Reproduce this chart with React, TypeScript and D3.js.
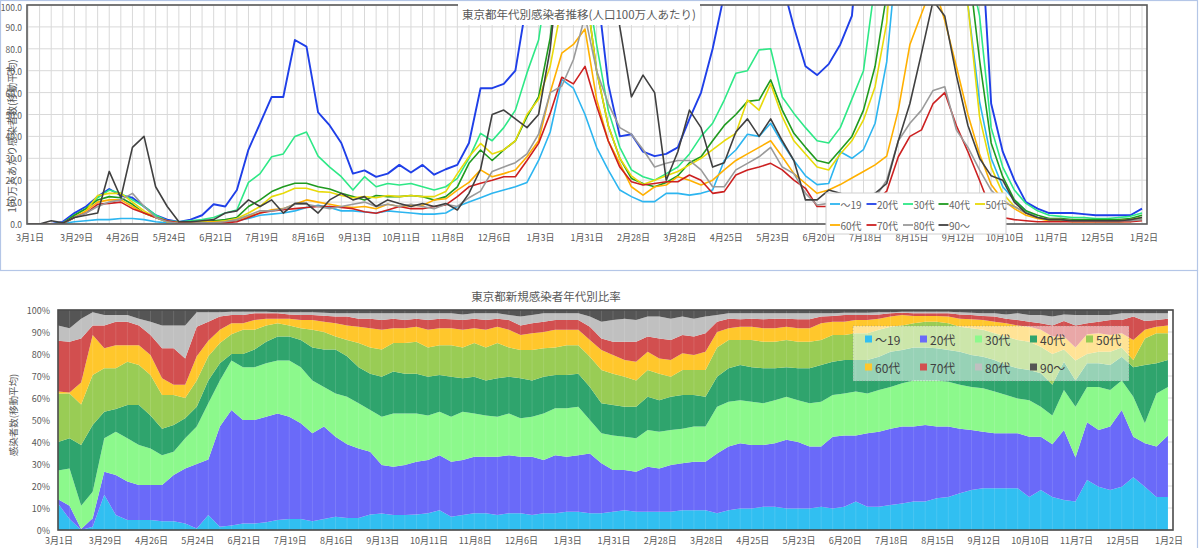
import React from 'react';
import * as d3 from 'd3';

// ---------------- data ----------------
const ageGroups = ['～19', '20代', '30代', '40代', '50代', '60代', '70代', '80代', '90～'];
const tickLabels = ['3月1日', '3月29日', '4月26日', '5月24日', '6月21日', '7月19日', '8月16日', '9月13日', '10月11日', '11月8日', '12月6日', '1月3日', '1月31日', '2月28日', '3月28日', '4月25日', '5月23日', '6月20日', '7月18日', '8月15日', '9月12日', '10月10日', '11月7日', '12月5日', '1月2日'];
const yTicksTop = [0, 10, 20, 30, 40, 50, 60, 70, 80, 90, 100];
const yTicksBottom = [0, 10, 20, 30, 40, 50, 60, 70, 80, 90, 100];
const titleTop = '東京都年代別感染者推移(人口100万人あたり)';
const titleBottom = '東京都新規感染者年代別比率';
const yLabelTop = '100万人あたり感染者数(移動平均)';
const yLabelBottom = '感染者数(移動平均)';

// weekly samples from 2020-03-01 to 2022-01-02 (97 points), per 1M population, 7-day average
const per1M_19 = [0, 0, 0, 0.2, 1, 1.5, 2, 2, 2.5, 2.5,
  2, 1, 0.5, 0.5, 0.5, 1, 1, 1, 1.5, 2.5,
  4, 4.5, 5, 6, 7.5, 8.5, 7.5, 6, 6, 5.5,
  5, 6, 5.5, 5, 4.5, 4.5, 5, 8, 10, 12,
  14, 15.5, 17, 19, 29, 42, 66, 62, 50, 35,
  24.7, 15.5, 12.5, 10.2, 10.2, 14, 14, 13.2, 14, 15.5,
  29, 33.8, 41, 40, 46, 37, 29, 22, 18, 18.5,
  33, 30, 34, 46, 74, 130, 180, 200, 200, 180,
  140, 100, 56, 30, 17, 11, 6, 3, 2, 2,
  1.5, 1.5, 1.2, 1, 1, 1.5, 3];
const per1M_20 = [0, 0, 0, 1, 5, 8, 12.5, 16, 13, 12,
  8, 4, 2, 1, 2, 4, 9, 8, 15.5, 34,
  46, 58, 58, 84, 81, 51, 45, 37, 23, 24.5,
  21.5, 23, 27, 23.5, 27, 22.5, 25, 27, 37, 62,
  62, 64, 70, 102, 160, 220, 230, 170, 140, 110,
  64, 40, 41, 33, 31, 32, 35, 48, 60, 80,
  105, 130, 150, 150, 130, 110, 90, 72, 68, 73,
  82, 95, 150, 250, 380, 500, 560, 550, 470, 380,
  270, 170, 145, 55, 33, 20, 10, 7, 5, 5,
  5, 4.5, 4, 4, 4, 4, 7];
const per1M_30 = [0, 0, 0, 0.5, 4, 7, 12, 15.5, 14, 11,
  8, 4, 1.5, 1, 1.5, 2, 3, 5, 6.4, 19,
  23, 30.7, 32, 40, 42, 31, 26, 21.6, 15.5, 21.6,
  17, 18.5, 17.8, 18.5, 17, 15.5, 17, 20.8, 30, 41.4,
  38, 44, 52, 69, 84, 120, 200, 180, 115, 82,
  52, 35, 24.7, 21.6, 20, 23, 26, 32, 40, 46,
  56.6, 68.8, 70, 79.5, 80, 58, 50.5, 44, 38, 37,
  44, 57, 70, 110, 180, 300, 360, 350, 300, 230,
  170, 120, 95, 44, 26, 15.5, 9.4, 6, 4, 3.5,
  3, 3, 2.5, 2.5, 3, 3.5, 5];
const per1M_40 = [0, 0, 0, 0.3, 4, 7, 11, 12.5, 12, 9,
  5, 3, 1, 0.5, 1, 1, 1.5, 2, 3, 8,
  11, 14.8, 17, 18.6, 18.6, 17, 16, 14, 12.5, 11,
  13, 12.5, 12.5, 13, 12.5, 11, 12.5, 17, 27.7, 33.8,
  29, 33.8, 38, 49, 58, 85, 130, 140, 110, 70,
  45, 30, 20.8, 18.5, 17, 19, 22, 28, 30.7, 38,
  45, 50, 56, 56.6, 65.8, 52, 41.4, 35, 29, 27.7,
  33.8, 40, 52, 72, 105, 180, 260, 280, 250, 200,
  150, 120, 75, 37, 21.6, 11, 6, 4, 2.5, 2.5,
  2, 2, 2, 2, 2, 2.5, 4];
const per1M_50 = [0, 0, 0, 0.2, 3, 6, 13, 14, 14, 10,
  6, 3, 1, 0.5, 0.5, 1, 1, 1.5, 2.5, 5,
  8, 12.5, 14, 16.3, 16.3, 14.8, 14.5, 13, 12, 12.5,
  12, 13, 12.5, 13, 12.5, 12.5, 14.8, 23, 30.7, 36.8,
  32, 33.8, 38, 50, 57, 72, 100, 110, 110, 70,
  45, 30, 22, 18, 20, 22, 24, 27, 30, 34,
  38, 41.4, 56.6, 52, 64, 49, 38, 32, 26, 24.7,
  32, 38, 47.5, 62.7, 92, 160, 220, 240, 220, 180,
  140, 100, 49, 26, 14, 8, 5, 3, 2, 2,
  1.5, 1.5, 1.5, 1.5, 1.5, 2, 3];
const per1M_60 = [0, 0, 0, 0.2, 3, 6, 10, 11, 11, 8,
  5, 3, 1, 0.5, 0.5, 0.5, 1, 1, 2, 3.5,
  5, 6.5, 7, 9, 11, 10, 9, 8, 7.5, 8,
  7, 9, 8, 8.5, 8.5, 11, 11.5, 15.5, 19, 24.7,
  21.6, 23, 24.7, 30.7, 38, 60, 78, 82, 89, 57,
  38, 27.7, 17, 13.2, 17, 17.8, 21.6, 20, 17.8, 20,
  24.7, 29, 32, 35, 38, 30.7, 23, 18.5, 14, 15.5,
  18, 21, 24, 27, 31, 52, 82, 96, 110, 93,
  72, 50, 32, 18, 11, 7, 4, 2.5, 1.5, 1.5,
  1, 1, 1, 1, 1, 1.2, 2];
const per1M_70 = [0, 0, 0, 0.2, 3, 5, 9, 9.4, 10, 7,
  5, 3, 1.5, 0.5, 0.3, 0.3, 0.5, 0.5, 1, 3,
  5, 6, 6.5, 7, 7.5, 8, 8, 7.5, 7, 5.6,
  4.9, 6.4, 8, 7, 7, 8, 8.7, 12.5, 17, 18.6,
  20, 21.6, 21.6, 29, 36.8, 50.5, 67, 64, 72, 54,
  38, 26, 19.3, 17.8, 18.5, 19.3, 19.3, 22.4, 20, 14,
  14.8, 22.4, 24.7, 26, 27.7, 24.7, 20, 16.3, 8, 8,
  7, 6, 7, 10, 15, 30.7, 40, 43, 55, 60,
  45, 33, 20, 6.4, 3, 2, 1.5, 1, 1, 1,
  1, 1, 1, 1, 1, 1, 1.5];
const per1M_80 = [0, 0, 0, 0.2, 3, 5, 8, 10, 11, 14,
  8, 3, 1, 0.3, 0.3, 0.5, 0.5, 1, 2, 4,
  6, 6, 7, 9, 9, 8, 7, 8, 9, 10,
  8, 9, 8, 9, 8, 7, 9, 8, 12, 15,
  24, 26, 28, 32, 41, 60, 63, 75, 95, 70,
  55, 44, 41, 34, 26, 27.7, 29, 29, 24.7, 17,
  17, 24.7, 27.7, 30.7, 35, 26, 23, 14, 8.7, 9.4,
  9, 8, 9, 12, 20, 38, 46, 52, 61, 62.7,
  43, 35, 24.7, 15.5, 10, 8, 5, 3, 2, 2,
  1.5, 1.5, 1.5, 1.5, 1.5, 1.5, 2];
const per1M_90 = [0, 0, 1.5, 0.5, 3, 4, 5, 24, 12, 35,
  40, 17, 8, 1, 1, 1.5, 2, 5, 6, 11,
  8, 11, 5, 9.4, 9.4, 5, 11, 14, 11, 12.5,
  8, 11, 9.4, 8, 9.4, 8, 9.4, 6.4, 14, 25,
  50, 52, 48, 44, 50, 80, 130, 200, 180, 150,
  130, 90, 58, 68, 60, 20, 33, 52, 44, 26,
  28, 42, 48, 40, 48, 38, 29, 11, 11, 15.5,
  14, 12, 12, 14, 18.5, 38, 55, 78, 102, 95,
  68, 45, 30, 22, 20, 10, 5, 3, 2, 2,
  1.5, 1.5, 1.5, 1.5, 1.5, 2, 3];

// cumulative share (%) of new cases up to and including each age band (weekly)
const cumShare19 = [12, 5, 0, 1.5, 16, 6.8, 4.5, 4.5, 4.5, 4,
  4, 3, 0.7, 6.8, 1.5, 2, 3, 3, 3.5, 4.5,
  5, 5, 4, 5, 6, 5.5, 5.5, 7, 7.5, 6.8,
  6.8, 7, 7.6, 9, 6, 6.8, 7.6, 7.6, 6.8, 7.6,
  7.6, 6.8, 7.6, 7.6, 8.3, 8.3, 7.6, 7.6, 8.3, 9,
  8.3, 8.3, 8.3, 8.3, 9, 9, 9, 7.6, 9, 9.8,
  9.8, 10.6, 10.6, 9.8, 9.8, 9.8, 10.6, 9.8, 10.6, 12.9,
  10.6, 10.6, 11.4, 12, 12.9, 12.9, 14.4, 15, 16.7, 18.2,
  19, 19, 19, 19, 15, 18.2, 15, 13.6, 12.9, 22.7,
  19.7, 18.2, 19.7, 24, 19.7, 15, 15];
const cumShare20 = [14, 11, 0.5, 5.3, 26.5, 25, 22, 20.5, 20.5, 20.5,
  25, 28, 30, 32, 47, 54.5, 50, 50, 51.5, 53,
  51.5, 48.5, 44, 47, 42.4, 39, 37, 35.6, 29.5, 28.8,
  29.5, 31, 31.8, 34, 31, 31.8, 33.3, 33.3, 33.3, 34,
  33.3, 33.3, 31.8, 34, 33.3, 34, 34.8, 30.3, 27.3, 27.3,
  26.5, 28.8, 28, 29.5, 30.3, 31, 31, 34.8, 37.9, 39.4,
  38.6, 38.6, 39.4, 41, 40, 37.9, 37.9, 42.4, 43, 43,
  44, 44.7, 46, 47, 47, 47.7, 47, 47, 46, 45.5,
  44.7, 44, 44, 44, 42.4, 42.4, 39, 45.5, 33, 49,
  45.5, 47, 54.5, 42.4, 39.4, 37.9, 43];
const cumShare30 = [27, 28, 11, 17.4, 41.7, 44.7, 41.7, 38.6, 37, 34,
  35.6, 41.7, 47, 57.6, 68, 77, 74, 74, 75.8, 77,
  77, 74, 68, 65, 62, 60.6, 57.6, 54.5, 51.5, 53,
  53, 53, 52, 53.8, 51.5, 53.8, 53, 52, 51.5, 53,
  50.8, 51.5, 53, 55.3, 55.3, 56, 50, 44, 43, 42.4,
  41.7, 45.5, 44.7, 45.5, 46, 47, 47, 56, 58.3, 59,
  58.3, 57.6, 59, 60.6, 59, 57.6, 58.3, 61.4, 62, 62.9,
  62, 63.6, 65, 66.7, 68, 68, 68, 67.4, 66, 65,
  64.4, 62.9, 61.4, 59.8, 59, 56, 52, 63.6, 56, 65,
  65, 63.6, 68, 60.6, 48.5, 62, 65];
const cumShare40 = [40, 41.7, 38.6, 47.7, 53.8, 55, 56.8, 56.8, 52, 46,
  47.7, 50.8, 56, 68, 75.8, 80, 80, 82, 85.6, 88,
  88, 86.4, 83, 82, 82, 79, 74, 71, 69.7, 72,
  71, 71, 69.7, 70.5, 69.7, 69, 69.7, 68, 69, 69.7,
  69, 68, 69.7, 70.5, 70.5, 71, 65, 57.6, 56.8, 56,
  56, 60.6, 59, 60.6, 61.4, 61.4, 60.6, 69.7, 73.5, 75,
  74, 73.5, 73.5, 74, 73.5, 73.5, 75, 76.5, 77.3, 77.3,
  77.3, 78.8, 81, 81.8, 83, 83, 82.6, 81.8, 81, 79.5,
  78.8, 77.3, 75, 73.5, 72.7, 71.2, 66, 76.5, 68, 75.8,
  75.8, 75, 78.8, 74, 75, 75.8, 77.3];
const cumShare50 = [62, 62, 57, 70.5, 73.5, 73.5, 76.5, 75, 70.5, 61.4,
  61.4, 60, 68, 79, 85, 89, 91, 91, 93, 94,
  93, 91.7, 91, 90, 88, 86.4, 85, 83, 82, 85,
  85, 85.6, 83, 84, 84, 83, 85, 83, 85, 83,
  81.8, 81.8, 82.6, 83, 84, 84, 78.8, 72.7, 71, 69.7,
  68, 72.7, 71, 69.7, 72.7, 72.7, 72.7, 83, 86.4, 86.4,
  86.4, 85.6, 85.6, 86.4, 85.6, 85.6, 86.4, 88.6, 88.6, 89.4,
  89.4, 91, 92.4, 93, 94, 94.7, 94.7, 94, 92.4, 91.7,
  91, 89.4, 88, 86.4, 85.6, 83.3, 80, 82, 77, 80,
  81, 81, 83, 77.3, 87, 89.4, 89.4];
const cumShare60 = [63, 62.5, 67, 88.6, 82.6, 84, 84, 84, 79.5, 69,
  66, 66, 79, 86, 91, 94, 94, 95.5, 96, 96,
  96, 95.5, 95.5, 94.7, 94, 93, 92.4, 91.7, 91, 91.7,
  91.7, 92.4, 91, 91.7, 91.7, 91, 91.7, 91, 92.4, 91,
  88.6, 89.4, 90, 91, 91, 91, 86.4, 81.8, 79.5, 77.3,
  76.5, 81, 78, 77.3, 80.3, 79.5, 81, 90, 91.7, 92.4,
  92.4, 91.7, 91.7, 92.4, 91.7, 91.7, 94, 94.7, 94.7, 95.5,
  95.5, 96, 97, 97.7, 97.3, 97.3, 97.3, 97, 96, 95.8,
  95.5, 94.7, 94, 93, 92.4, 91, 88, 88, 83, 89,
  89.4, 88.6, 89.4, 86.4, 91, 92.4, 93];
const cumShare70 = [86, 85.6, 87, 93, 93, 94.7, 94.7, 93, 88.6, 82.6,
  82.6, 78, 92.4, 94.7, 97, 97.7, 97.7, 98.5, 98.5, 98.5,
  98, 97.7, 97.7, 97.4, 97, 97, 96, 96, 95.5, 96,
  95.5, 96, 95.5, 96, 95.8, 95.5, 96, 95.5, 96, 95.5,
  93, 94, 94.7, 95.5, 95.5, 95.5, 92.4, 87, 85.6, 85.6,
  85.6, 87.9, 87, 86.4, 88.6, 87.9, 89.4, 94.7, 96, 95.8,
  96, 95.8, 96, 96, 95.8, 95.8, 97, 97.3, 97.7, 97.7,
  97.7, 98, 98.5, 98.8, 98.5, 98.5, 98.5, 98.5, 98, 97.7,
  97.3, 97, 96, 95.5, 94.7, 94, 93, 95, 93, 94,
  94.7, 95.5, 95.5, 97, 95, 95.5, 96];
const cumShare80 = [93, 91.7, 96, 99, 97.7, 97.7, 97.7, 96, 94.7, 93,
  93, 93, 99, 99, 99, 99.2, 99.2, 99.2, 99.2, 99,
  99, 99, 99, 98.8, 98.5, 98.5, 98.5, 98.5, 98.5, 98.5,
  98.5, 98.5, 98.5, 98.5, 98.5, 98, 98.5, 98.5, 98.5, 97.7,
  97, 97.7, 98.5, 98.5, 98.5, 98.5, 97, 94.7, 95.5, 96,
  95.5, 97, 97, 96, 97, 96, 97, 97.7, 98.5, 98.5,
  98.5, 98.5, 98.5, 98.5, 98.5, 98.5, 98.5, 98.5, 98.8, 98.8,
  98.8, 99, 99, 99.2, 99.2, 99.2, 99.2, 99.2, 99, 98.8,
  98.5, 98.5, 98, 98.5, 97.7, 97.7, 97, 98, 97.7, 97.7,
  97.7, 97.7, 98.5, 98.5, 98.5, 98.5, 98.5];
const cumShare90 = cumShare80.map(() => 100);

const lineSeries = [per1M_19, per1M_20, per1M_30, per1M_40, per1M_50, per1M_60, per1M_70, per1M_80, per1M_90];
const cumSeries = [cumShare19, cumShare20, cumShare30, cumShare40, cumShare50, cumShare60, cumShare70, cumShare80, cumShare90];

const lineColors = ['#2cb5f0', '#1f3fe8', '#2ee886', '#1f9a1f', '#e8da0a', '#ffb000', '#cc2020', '#9a9a9a', '#404040'];
const areaColors = ['#31bff1', '#6a6af9', '#8cf98c', '#2fa46d', '#99cc55', '#ffc72c', '#d24f4f', '#c0c0c0', '#555555'];

// ---------------- chart ----------------
const FONT = "'Noto Sans CJK JP', 'Noto Sans', sans-serif";
const START = new Date(2020, 2, 1);

export default function App() {
  const dates = d3.range(per1M_19.length).map((i) => d3.timeDay.offset(START, i * 7));
  const tickDates = tickLabels.map((_, i) => dates[i * 4]);

  // top chart geometry
  const TL = 27, TR = 1147, TT = 5, TB = 224;
  const xTop = d3.scaleTime().domain([dates[0], dates[dates.length - 1]]).range([28, 1142]);
  const yTop = d3.scaleLinear().domain([0, 100]).range([TB, TT]);
  const line = d3.line<number>().x((_, i) => xTop(dates[i])).y((d) => yTop(d));

  // bottom chart geometry
  const BL = 58, BR = 1173, BT = 310, BB = 530;
  const xBot = d3.scaleTime().domain([dates[0], dates[dates.length - 1]]).range([58, 1168]);
  const yBot = d3.scaleLinear().domain([0, 100]).range([BB, BT]);

  const rows = dates.map((d, i) => {
    const o: any = { date: d };
    ageGroups.forEach((g, k) => {
      const lo = k === 0 ? 0 : cumSeries[k - 1][i];
      const hi = cumSeries[k][i];
      o[g] = Math.max(0, hi - lo);
    });
    return o;
  });
  const stacked = d3.stack<any>().keys(ageGroups)(rows);
  const area = d3.area<any>().x((d) => xBot(d.data.date)).y0((d) => yBot(d[0])).y1((d) => yBot(d[1]));

  const gridColor = '#d9d9d9';
  const textColor = '#595959';

  const topLegendX = [830, 866.5, 903, 938.5, 975];
  const topLegendY = [204, 225];
  const botLegendX = [865, 920, 975, 1030, 1086];
  const botLegendY = [339, 367];

  return (
    <svg width={1200} height={548} style={{ position: 'absolute', left: 0, top: 0, background: '#fff' }} fontFamily={FONT}>
      <defs>
        <clipPath id="clipTop">
          <rect x={TL} y={TT} width={TR - TL} height={TB - TT} />
        </clipPath>
      </defs>
      <rect x={0} y={0} width={1200} height={548} fill="#fff" />

      {/* ===== top panel ===== */}
      <g>
        {dates.map((d, i) => (
          <line key={'vg' + i} x1={xTop(d)} x2={xTop(d)} y1={TT} y2={TB} stroke={gridColor} strokeWidth={1} />
        ))}
        {yTicksTop.map((v) => (
          <line key={'hg' + v} x1={TL} x2={TR} y1={yTop(v)} y2={yTop(v)} stroke={gridColor} strokeWidth={1} />
        ))}
        <g clipPath="url(#clipTop)">
          {lineSeries.map((s, k) => (
            <path key={'ln' + k} d={line(s) || ''} fill="none" stroke={lineColors[k]} strokeWidth={k === 1 ? 1.9 : 1.6} strokeLinejoin="round" />
          ))}
        </g>
        <rect x={TL} y={TT} width={TR - TL} height={TB - TT} fill="none" stroke="#5a5a5a" strokeWidth={1.6} />
        {yTicksTop.map((v) => (
          <text key={'yt' + v} x={22} y={Math.max(yTop(v), 7)} textAnchor="end" dominantBaseline="central" fontSize={8.5} fill={textColor}>
            {v.toFixed(1)}
          </text>
        ))}
        {tickDates.map((d, i) => (
          <text key={'xt' + i} x={xTop(d) + 2} y={237} textAnchor="middle" dominantBaseline="central" fontSize={9} fill={textColor}>
            {tickLabels[i]}
          </text>
        ))}
        <text transform={`translate(11,136) rotate(-90)`} textAnchor="middle" dominantBaseline="central" fontSize={10} fill={textColor}>
          {yLabelTop}
        </text>
        <rect x={458} y={0} width={242} height={25} fill="#fff" />
        <text x={579} y={13.5} textAnchor="middle" dominantBaseline="central" fontSize={11.5} fill={textColor}>
          {titleTop}
        </text>
        {/* legend */}
        <rect x={826} y={193} width={180} height={41} fill="#fff" stroke="#d0d0d0" strokeWidth={1} />
        {ageGroups.map((g, k) => {
          const cx = topLegendX[k % 5];
          const cy = topLegendY[Math.floor(k / 5)];
          return (
            <g key={'tl' + k}>
              <line x1={cx} x2={cx + 10} y1={cy} y2={cy} stroke={lineColors[k]} strokeWidth={1.8} />
              <text x={cx + 10.5} y={cy} dominantBaseline="central" fontSize={10} fill="#666">
                {g}
              </text>
            </g>
          );
        })}
      </g>

      {/* panel borders */}
      <rect x={0.5} y={0.5} width={1197} height={270} fill="none" stroke="#b4c6e7" strokeWidth={1.2} />
      <line x1={1197.5} x2={1197.5} y1={270} y2={548} stroke="#b4c6e7" strokeWidth={1.2} />

      {/* ===== bottom panel ===== */}
      <g>
        {yTicksBottom.map((v) => (
          <line key={'bhg' + v} x1={BL} x2={BR} y1={yBot(v)} y2={yBot(v)} stroke={gridColor} strokeWidth={1} />
        ))}
        {stacked.map((layer, k) => (
          <path key={'ar' + k} d={area(layer as any) || ''} fill={areaColors[k]} stroke="none" />
        ))}
        {dates.map((d, i) => (
          <line key={'bvg' + i} x1={xBot(d)} x2={xBot(d)} y1={BT} y2={BB} stroke="#ffffff" strokeOpacity={0.12} strokeWidth={1} />
        ))}
        <rect x={BL} y={BT} width={BR - BL} height={BB - BT} fill="none" stroke="#4a4a4a" strokeWidth={1.6} />
        {yTicksBottom.map((v) => (
          <text key={'byt' + v} x={50} y={yBot(v)} textAnchor="end" dominantBaseline="central" fontSize={9} fill={textColor}>
            {v + '%'}
          </text>
        ))}
        {tickDates.map((d, i) => (
          <text key={'bxt' + i} x={xBot(d) + 1} y={540} textAnchor="middle" dominantBaseline="central" fontSize={9} fill={textColor}>
            {tickLabels[i]}
          </text>
        ))}
        <text transform={`translate(12.5,415) rotate(-90)`} textAnchor="middle" dominantBaseline="central" fontSize={9.5} fill={textColor}>
          {yLabelBottom}
        </text>
        <text x={546} y={295.5} textAnchor="middle" dominantBaseline="central" fontSize={11.5} fill={textColor}>
          {titleBottom}
        </text>
        {/* legend */}
        <rect x={853} y={326} width={276} height={55} fill="#fff" fillOpacity={0.5} stroke="#8a8a8a" strokeOpacity={0.6} strokeDasharray="1 2" strokeWidth={0.8} />
        {ageGroups.map((g, k) => {
          const sx = botLegendX[k % 5];
          const cy = botLegendY[Math.floor(k / 5)];
          return (
            <g key={'bl' + k}>
              <rect x={sx} y={cy - 3.5} width={7} height={7} fill={areaColors[k]} />
              <text x={sx + 10} y={cy} dominantBaseline="central" fontSize={12} fill="#404040">
                {g}
              </text>
            </g>
          );
        })}
      </g>
    </svg>
  );
}
